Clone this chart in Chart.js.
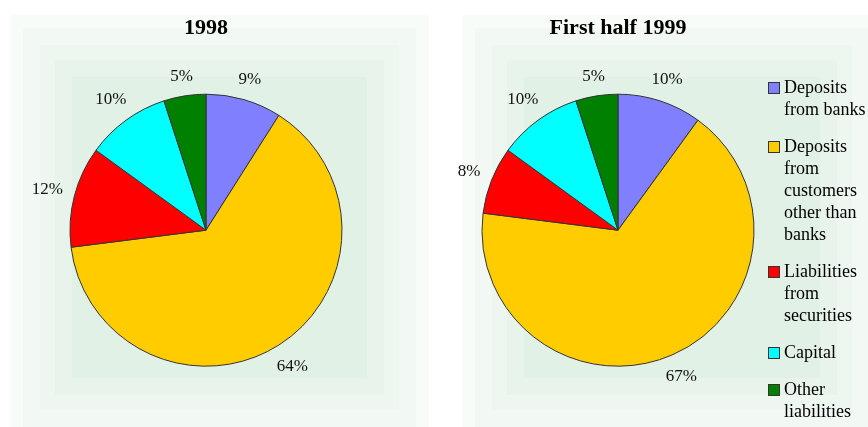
<!doctype html>
<html lang="en">
  <head>
    <meta charset="utf-8">
    <title>Liabilities structure 1998 / first half 1999</title>
    <script src="https://cdn.jsdelivr.net/npm/chart.js"></script>
    <style>
      body { margin: 0; background: #fff; }
      #wrap { position: relative; width: 868px; height: 427px; overflow: hidden; }
      .panel {
        position: absolute; top: 15px; height: 425px;
        background: #e2f1e6;
        box-shadow: inset 0 0 0 13px #f8fcf9, inset 0 0 0 30px #f2f9f4,
                    inset 0 0 0 45px #edf7f0, inset 0 0 0 62px #e8f4eb;
      }
      .box { position: absolute; top: 10px; height: 417px; }
      #legend {
        position: absolute; left: 768px; top: 76px;
        font-family: "Liberation Serif", serif; font-size: 18px; color: #000;
      }
      .item { position: relative; padding-left: 16px; margin-bottom: 15px; line-height: 22px; }
      .item span.sw {
        position: absolute; left: 0; top: 6px; width: 10px; height: 10px;
        border: 1px solid #333;
      }
    </style>
  </head>
  <body>
    <div id="wrap">
      <div class="panel" style="left:10px; width:419px;"></div>
      <div class="panel" style="left:462px; width:420px;"></div>
      <div class="box" style="left:0px; width:412px;"><canvas id="c1998"></canvas></div>
      <div class="box" style="left:430px; width:376px;"><canvas id="c1999"></canvas></div>
      <div id="legend"></div>
    </div>

    <script>
    // data
    const categories = ['Deposits from banks', 'Deposits from customers other than banks',
                        'Liabilities from securities', 'Capital', 'Other liabilities'];
    const legendLines = [['Deposits', 'from banks'], ['Deposits', 'from', 'customers', 'other than', 'banks'],
                         ['Liabilities', 'from', 'securities'], ['Capital'], ['Other', 'liabilities']];
    const values1998 = [9, 64, 12, 10, 5];
    const values1999 = [10, 67, 8, 10, 5];
    const titles = ['1998', 'First half 1999'];
    const colors = ['#8080ff', '#ffcc00', '#ff0000', '#00ffff', '#008000'];

    // percent labels outside each slice
    const outsideLabels = {
        id: 'outsideLabels',
        afterDatasetsDraw(chart) {
            const ctx = chart.ctx;
            const meta = chart.getDatasetMeta(0);
            const data = chart.data.datasets[0].data;
            ctx.save();
            ctx.font = '17px "Liberation Serif", serif';
            ctx.fillStyle = '#111';
            ctx.textAlign = 'center';
            ctx.textBaseline = 'middle';
            meta.data.forEach((arc, i) => {
                const p = arc.getProps(['x', 'y', 'startAngle', 'endAngle', 'outerRadius'], true);
                const mid = (p.startAngle + p.endAngle) / 2;
                const txt = data[i] + '%';
                const w = ctx.measureText(txt).width;
                const ux = Math.cos(mid), uy = Math.sin(mid);
                const ext = w / 2 * Math.abs(ux) + 7 * Math.abs(uy);
                const d = p.outerRadius + 11 + ext;
                ctx.fillText(txt, p.x + ux * d, p.y + uy * d);
            });
            ctx.restore();
        }
    };

    function makePie(id, title, values) {
        return new Chart(document.getElementById(id), {
            type: 'pie',
            data: {
                labels: categories,
                datasets: [{
                    data: values,
                    backgroundColor: colors,
                    borderColor: '#333',
                    borderWidth: 1,
                    radius: 136,
                    hoverOffset: 0
                }]
            },
            options: {
                responsive: true,
                maintainAspectRatio: false,
                animation: false,
                layout: { padding: { top: 0, bottom: 18 } },
                plugins: {
                    legend: { display: false },
                    tooltip: { enabled: false },
                    title: {
                        display: true,
                        text: title,
                        color: '#000',
                        font: { family: '"Liberation Serif", serif', size: 22, weight: 'bold' },
                        padding: { top: 5, bottom: 10 }
                    }
                }
            },
            plugins: [outsideLabels]
        });
    }

    makePie('c1998', titles[0], values1998);
    makePie('c1999', titles[1], values1999);

    // legend
    const lg = document.getElementById('legend');
    legendLines.forEach((lines, i) => {
        const div = document.createElement('div');
        div.className = 'item';
        div.innerHTML = '<span class="sw" style="background:' + colors[i] + '"></span>' + lines.join('<br>');
        lg.appendChild(div);
    });
    </script>
  </body>
</html>
